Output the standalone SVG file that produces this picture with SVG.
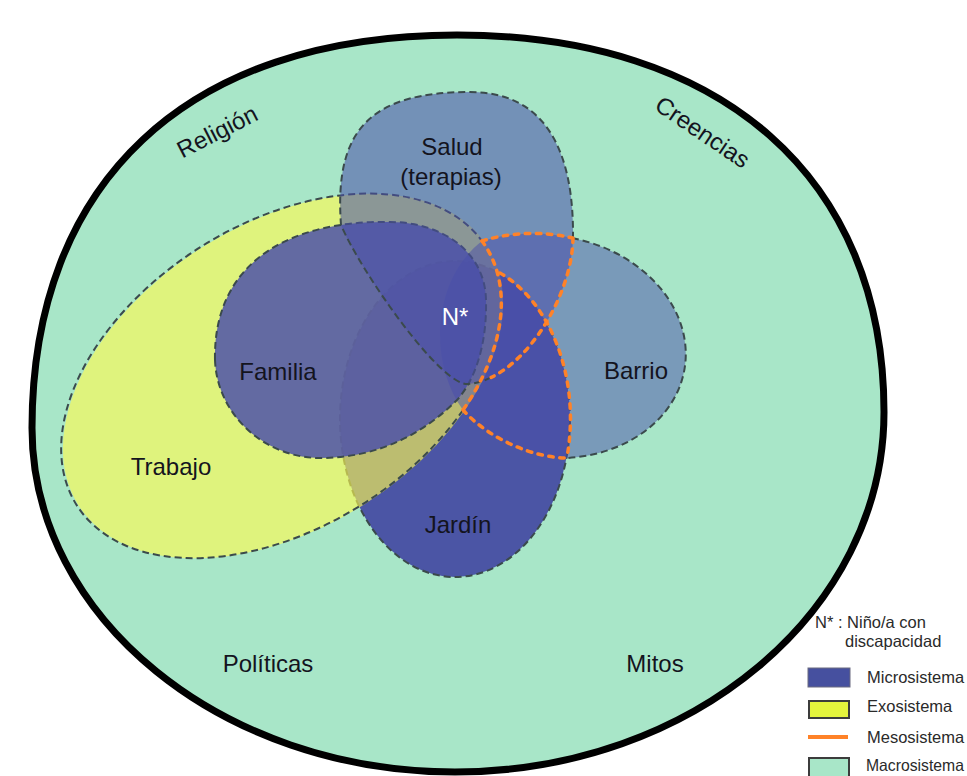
<svg xmlns="http://www.w3.org/2000/svg" width="967" height="776" viewBox="0 0 967 776">
<style>
.lbl{font-family:"Liberation Sans",Arial,sans-serif;font-size:24px;fill:#14141e;text-anchor:middle}
.leg{font-family:"Liberation Sans",Arial,sans-serif;font-size:16.5px;fill:#2a2a2a}
.dash{fill:none;stroke:#3b4a4c;stroke-width:2;stroke-dasharray:7 4}
.meso{fill:none;stroke:#ff8228;stroke-width:3.5;stroke-dasharray:4.5 6.5;stroke-linecap:round}
.blue{fill:rgb(73,78,170)}
</style>
<rect width="967" height="776" fill="#ffffff"/>
<g id="macrosistema">
<path d="M32,428 C32,184 185,35 457,35 C722,35 884,178 884,412 C884,611 692,772 455,772 C222,772 32,618 32,428 Z" fill="#a8e6c8" stroke="#000" stroke-width="7"/>
</g>
<g id="jardin">
<ellipse cx="455" cy="419" rx="115" ry="158" fill="#4b55a5"/>
<ellipse cx="455" cy="419" rx="115" ry="158" class="dash"/>
</g>
<g id="trabajo">
<ellipse cx="283" cy="376" rx="242" ry="152" transform="rotate(-32.3 283 376)" fill="rgb(255,250,80)" fill-opacity="0.63"/>
<path class="dash" d="M463,410 A242 152 -32.3 1 1 482,241"/>
</g>
<g id="barrio">
<path d="M482,241 C510,232 545,231 572,238 A138 111 9 0 1 567,458 C535,458 490,440 463,410 C428,362 432,280 482,241 Z" class="blue" fill-opacity="0.5"/>
<path class="dash" d="M572,238 A138 111 9 0 1 567,458"/>
</g>
<g id="familia">
<path d="M215,360 C213,262 290,220 390,222 C440,222 485,250 486,300 C487,345 475,380 457,400 C425,432 380,458 320,458 C265,458 217,415 215,360 Z" class="blue" fill-opacity="0.83"/>
<path class="dash" d="M215,360 C213,262 290,220 390,222 C440,222 485,250 486,300 C487,345 475,380 457,400 C425,432 380,458 320,458 C265,458 217,415 215,360 Z"/>
</g>
<g id="salud">
<path d="M470,92 C545,92 574,150 573,238 C572,300 520,380 468,384 C440,386 360,270 341,225 C334,130 370,92 470,92 Z" class="blue" fill-opacity="0.56"/>
<path class="dash" d="M491.2,377.4 C483.6,381.1 475.8,383.4 468,384 C440,386 360,270 341,225 C334,130 370,92 470,92 C545,92 574,150 573,238"/>
</g>
<g id="mesosistema">
<path class="meso" d="M482,241 A242 152 -32.3 0 1 463,410"/>
<path class="meso" d="M482,241 C510,232 545,231 572,238"/>
<path class="meso" d="M573,238 C572.15,290.7 534.45,356.4 491.2,377.4"/>
<path class="meso" d="M500,273 A115 158 0 0 1 567,457"/>
<path class="meso" d="M463,410 C490,440 535,458 567,458"/>
</g>
<g id="labels">
<text class="lbl" font-size="25" transform="translate(221,139) rotate(-27)">Religión</text>
<text class="lbl" transform="translate(698,139) rotate(34)">Creencias</text>
<text class="lbl" x="452" y="155">Salud</text>
<text class="lbl" x="451" y="185">(terapias)</text>
<text class="lbl" x="455" y="325" style="fill:#ffffff">N*</text>
<text class="lbl" x="278" y="380">Familia</text>
<text class="lbl" x="171" y="475">Trabajo</text>
<text class="lbl" x="636" y="379">Barrio</text>
<text class="lbl" x="458" y="533">Jardín</text>
<text class="lbl" x="268" y="672">Políticas</text>
<text class="lbl" x="655" y="672">Mitos</text>
</g>
<g id="legend">
<text class="leg" x="815" y="628">N* : Niño/a con</text>
<text class="leg" x="845" y="647">discapacidad</text>
<rect x="808" y="668" width="42" height="19" fill="#46509f" stroke="#6a6a80" stroke-width="1"/>
<text class="leg" x="867" y="683">Microsistema</text>
<rect x="809" y="701" width="40" height="17" fill="#e4f43c" stroke="#3c3c3c" stroke-width="2"/>
<text class="leg" x="867" y="712">Exosistema</text>
<line x1="808" y1="737" x2="848" y2="737" stroke="#ff8228" stroke-width="4"/>
<text class="leg" x="867" y="743">Mesosistema</text>
<rect x="809" y="758" width="40" height="20" fill="#a8e6c8" stroke="#3c3c3c" stroke-width="2"/>
<text class="leg" x="866" y="771" textLength="98" lengthAdjust="spacingAndGlyphs">Macrosistema</text>
</g>
</svg>
